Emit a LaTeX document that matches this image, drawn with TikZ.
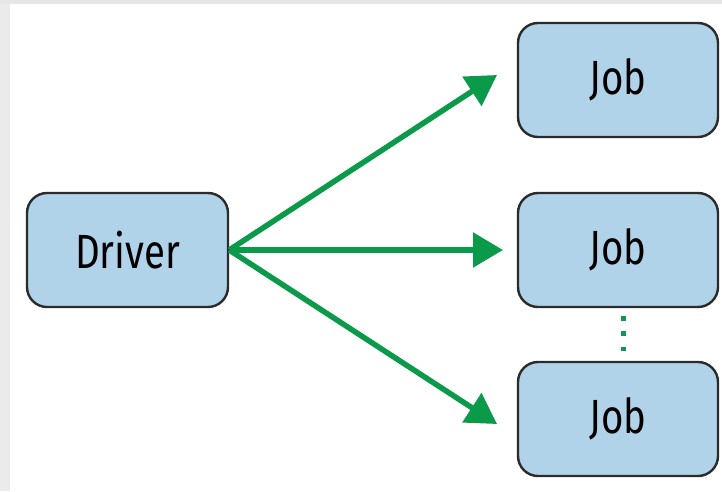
\documentclass[tikz,border=0pt]{standalone}
\usepackage{fontspec}
\setmainfont{Fira Sans}[FakeStretch=0.8]
\usetikzlibrary{arrows.meta}
\definecolor{boxfill}{HTML}{B1D3EA}
\definecolor{boxline}{HTML}{2B2B2B}
\definecolor{flow}{HTML}{0A9A4A}
\definecolor{frame}{HTML}{E6E6E6}
\tikzset{
  procbox/.style={draw=boxline, fill=boxfill, line width=2.4pt, rounded corners=20pt,
    minimum width=200pt, minimum height=114pt, inner sep=0pt,
    font=\fontsize{48}{50}\selectfont},
  flowarrow/.style={draw=flow, line width=5.5pt, -{Triangle[length=30pt,width=34pt]}},
  moredots/.style={draw=flow, line width=5pt, dash pattern=on 5pt off 10.5pt}
}
\begin{document}
\begin{tikzpicture}[x=1pt, y=-1pt]
  % canvas and the grey margin strips
  \useasboundingbox (0,0) rectangle (722,491);
  \fill[white] (0,0) rectangle (722,491);
  \fill[frame] (0,0) rectangle (722,4);
  \fill[frame!80!white] (0,4) rectangle (10,491);

  % boxes
  \node[procbox, minimum width=201pt] (drv) at (127.5,250) {Driver};
  \node[procbox] (j1) at (618,80) {Job};
  \node[procbox] (j2) at (618,250) {Job};
  \node[procbox] (j3) at (618,419) {Job};

  % arrow tips
  \coordinate (t1) at (497,75);
  \coordinate (t2) at (503,250);
  \coordinate (t3) at (497,424);

  \draw[flowarrow] (drv.east) -- (t1);
  \draw[flowarrow] (drv.east) -- (t2);
  \draw[flowarrow] (drv.east) -- (t3);

  % ellipsis between the lower jobs
  \draw[moredots, shorten <=7.5pt, shorten >=9.5pt]
    ([xshift=5pt]j2.south) -- ([xshift=5pt]j3.north);
\end{tikzpicture}
\end{document}
